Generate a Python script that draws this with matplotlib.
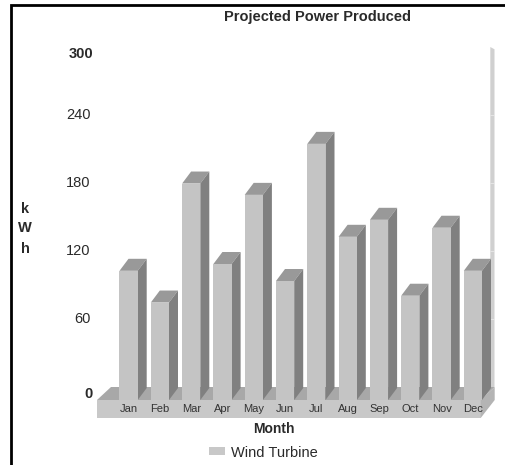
#!/usr/bin/env python3
"""
Projected Power Produced - pseudo 3D bars, drawn on one full-figure axes
"""

import matplotlib
matplotlib.use('Agg')
import matplotlib.pyplot as plt
from matplotlib.patches import Polygon, Patch

plt.rcParams['font.family'] = ['Liberation Sans', 'DejaVu Sans']

# Data
months = ['Jan', 'Feb', 'Mar', 'Apr', 'May', 'Jun', 'Jul', 'Aug', 'Sep', 'Oct', 'Nov', 'Dec']
wind_turbine = [114, 86, 191, 120, 181, 105, 226, 144, 159, 92, 152, 114]
y_ticks = [0, 60, 120, 180, 240, 300]

# Scale: pixels of the 506x465 picture
W, H = 506, 465
X0_PX, X_STEP = 128.6, 31.3      # Jan centre, px per month
Y0_PX, Y_STEP = 400.0, 68 / 60   # front baseline, px per kWh
BAR_W = 18.2 / X_STEP
DX, DY = 9 / X_STEP, 12 / Y_STEP  # bar depth
FLOOR_DX, FLOOR_DY = 14 / X_STEP, 13 / Y_STEP
TEXT = '#2a2a2a'


def px_x(px):
    return (px - X0_PX) / X_STEP


def px_y(py):
    return (Y0_PX - py) / Y_STEP


fig = plt.figure(figsize=(W / 100, H / 100), dpi=100, facecolor='white')
ax = fig.add_axes([0, 0, 1, 1])
ax.set_xlim(px_x(0), px_x(W))
ax.set_ylim(px_y(H), px_y(0))
ax.axis('off')

# Picture frame (left and top only)
ax.plot([px_x(11), px_x(11), px_x(W)], [px_y(H), px_y(5), px_y(5)], color='black', lw=2,
        solid_joinstyle='miter', zorder=10)

# Floor
fl, fr = px_x(97), px_x(480.7)
ax.add_patch(Polygon([(fl, 0), (fl + FLOOR_DX, FLOOR_DY), (fr + FLOOR_DX, FLOOR_DY), (fr, 0)],
                     facecolor='#a8a8a8', edgecolor='none', zorder=1))
ax.add_patch(Polygon([(fl, 0), (fr, 0), (fr, px_y(418)), (fl, px_y(418))],
                     facecolor='#c8c8c8', edgecolor='none', zorder=1))
ax.add_patch(Polygon([(fr, 0), (fr + FLOOR_DX, FLOOR_DY), (fr + FLOOR_DX, px_y(400)), (fr, px_y(418))],
                     facecolor='#b4b4b4', edgecolor='none', zorder=1))

# Back wall, seen edge on, with white tick marks
wl, wr = px_x(490.3), px_x(494.5)
ax.add_patch(Polygon([(wl, FLOOR_DY), (wr, FLOOR_DY), (wr, 300 + FLOOR_DY - 2), (wl, 300 + FLOOR_DY)],
                     facecolor='#d0d0d0', edgecolor='none', zorder=1))
ax.hlines([v + FLOOR_DY for v in y_ticks[1:-1]], wl, wr, color='#eeeeee', lw=0.5, zorder=2)

# Bars
positions = list(range(len(months)))
ax.bar(positions, wind_turbine, width=BAR_W, color='#c4c4c4', zorder=5)
for x, v in zip(positions, wind_turbine):
    l, r = x - BAR_W / 2, x + BAR_W / 2
    ax.add_patch(Polygon([(l, v), (l + DX, v + DY), (r + DX, v + DY), (r, v)],
                         facecolor='#999999', edgecolor='none', zorder=4))
    ax.add_patch(Polygon([(r, 0), (r + DX, DY), (r + DX, v + DY), (r, v)],
                         facecolor='#808080', edgecolor='none', zorder=4))

# Month labels on the floor front
for x, m in zip(positions, months):
    ax.text(x, px_y(408.5), m, fontsize=8, color='#333333', ha='center', va='center', zorder=6)

# Value labels (first and last are bold in the picture)
label_y = {0: 394, 60: 319, 120: 251, 180: 183, 240: 115, 300: 54}
for v in y_ticks:
    bold = v in (0, 300)
    ax.text(px_x(93 if bold else 90.5), px_y(label_y[v]), str(v), fontsize=10.5, color=TEXT,
            fontweight='bold' if bold else 'normal', ha='right', va='center')

# Axis titles
ax.text(px_x(318), px_y(17), 'Projected Power Produced', fontsize=10.5, fontweight='bold',
        color=TEXT, ha='center', va='center')
ax.text(px_x(274), px_y(428.5), 'Month', fontsize=10, fontweight='bold', color=TEXT,
        ha='center', va='center')
for ch, py in zip('kWh', [209, 228, 249]):
    ax.text(px_x(25), px_y(py), ch, fontsize=10.5, fontweight='bold', color=TEXT,
            ha='center', va='center')

# Legend
ax.legend(handles=[Patch(facecolor='#c8c8c8', label='Wind Turbine')], frameon=False, fontsize=10.5,
          loc='center', bbox_to_anchor=(263.5 / W, 1 - 452.5 / H), handlelength=1.1, handleheight=0.5,
          handletextpad=0.45, labelcolor=TEXT, borderpad=0, borderaxespad=0)

plt.savefig('out.png', dpi=100, facecolor='white')
plt.close()
